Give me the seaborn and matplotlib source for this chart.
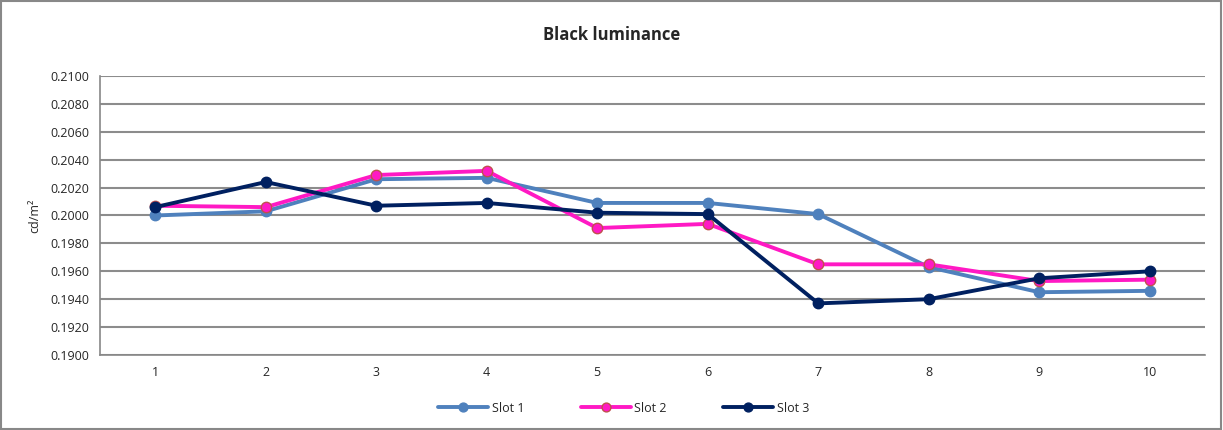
import matplotlib
matplotlib.use("Agg")
import matplotlib.pyplot as plt
import seaborn as sns
import pandas as pd
import numpy as np
from matplotlib.ticker import FixedLocator, FormatStrFormatter

categories = [1, 2, 3, 4, 5, 6, 7, 8, 9, 10]
slot1 = [0.2000, 0.2003, 0.2026, 0.2027, 0.2009, 0.2009, 0.2001, 0.1963, 0.1945, 0.1946]
slot2 = [0.2007, 0.2006, 0.2029, 0.2032, 0.1991, 0.1994, 0.1965, 0.1965, 0.1953, 0.1954]
slot3 = [0.2006, 0.2024, 0.2007, 0.2009, 0.2002, 0.2001, 0.1937, 0.1940, 0.1955, 0.1960]
series_names = ["Slot 1", "Slot 2", "Slot 3"]
y_ticks = [0.1900, 0.1920, 0.1940, 0.1960, 0.1980, 0.2000, 0.2020, 0.2040, 0.2060, 0.2080, 0.2100]

df = pd.DataFrame({
    "x": categories * 3,
    "value": slot1 + slot2 + slot3,
    "series": sum([[n] * len(categories) for n in series_names], []),
})

sns.set_theme(style="white")
plt.rcParams["font.family"] = ["Open Sans", "DejaVu Sans"]

fig = plt.figure(figsize=(12.23, 4.30), dpi=100)
ax = fig.add_axes([100 / 1223, 1 - 355 / 430, 1105 / 1223, 279 / 430])

colors = {"Slot 1": "#4F81BD", "Slot 2": "#FF19C4", "Slot 3": "#002060"}
edges = {"Slot 1": "#4F81BD", "Slot 2": "#C0504D", "Slot 3": "#002060"}

for name in series_names:
    sub = df[df["series"] == name]
    sns.lineplot(data=sub, x="x", y="value", ax=ax, color=colors[name], lw=2.8,
                 marker="o", markersize=7.5, markeredgewidth=1.0, label=name, zorder=3)
    ln = ax.lines[-1]
    ln.set_markeredgecolor(edges[name])
    ln.set_markerfacecolor(colors[name])

ax.set_xlim(0.5, 10.5)
ax.set_ylim(0.19, 0.21)
ax.yaxis.set_major_locator(FixedLocator(y_ticks))
ax.yaxis.set_major_formatter(FormatStrFormatter("%.4f"))
ax.set_xticks(categories)
ax.set_xticks(np.arange(0.5, 11, 1.0), minor=True)
ax.tick_params(axis="x", which="major", length=0, pad=8, labelsize=9)
ax.tick_params(axis="x", which="minor", length=5, width=1, color="#888888", direction="out")
ax.tick_params(axis="y", which="major", length=5, width=1, color="#888888", direction="out", labelsize=9, pad=3)
ax.grid(axis="y", color="#8c8c8c", lw=1.5, zorder=0)
ax.grid(axis="x", visible=False)
for s in ["top", "right"]:
    ax.spines[s].set_visible(False)
for s in ["left", "bottom"]:
    ax.spines[s].set_color("#888888")
    ax.spines[s].set_linewidth(1.2)
ax.set_xlabel("")
ax.set_ylabel("cd/m²", fontsize=9, labelpad=6)
fig.text(0.5, 1 - 35 / 430, "Black luminance", fontsize=12, fontweight="bold",
         ha="center", va="center")

handles, labels = ax.get_legend_handles_labels()
ax.legend_.remove() if ax.legend_ else None
leg = fig.legend(handles, labels, loc="center", bbox_to_anchor=(0.51, 1 - 408 / 430), ncol=3,
                 frameon=False, fontsize=9, handlelength=4, columnspacing=4.5,
                 handletextpad=0.3, markerscale=0.85)
for h, name in zip(leg.legend_handles, series_names):
    h.set_markeredgecolor(edges[name])
    h.set_markerfacecolor(colors[name])

fig.patches.append(plt.Rectangle((0.001, 0.002), 0.997, 0.995, transform=fig.transFigure,
                                 fill=False, edgecolor="#888888", lw=1.5))
fig.savefig("out.png", dpi=100)
